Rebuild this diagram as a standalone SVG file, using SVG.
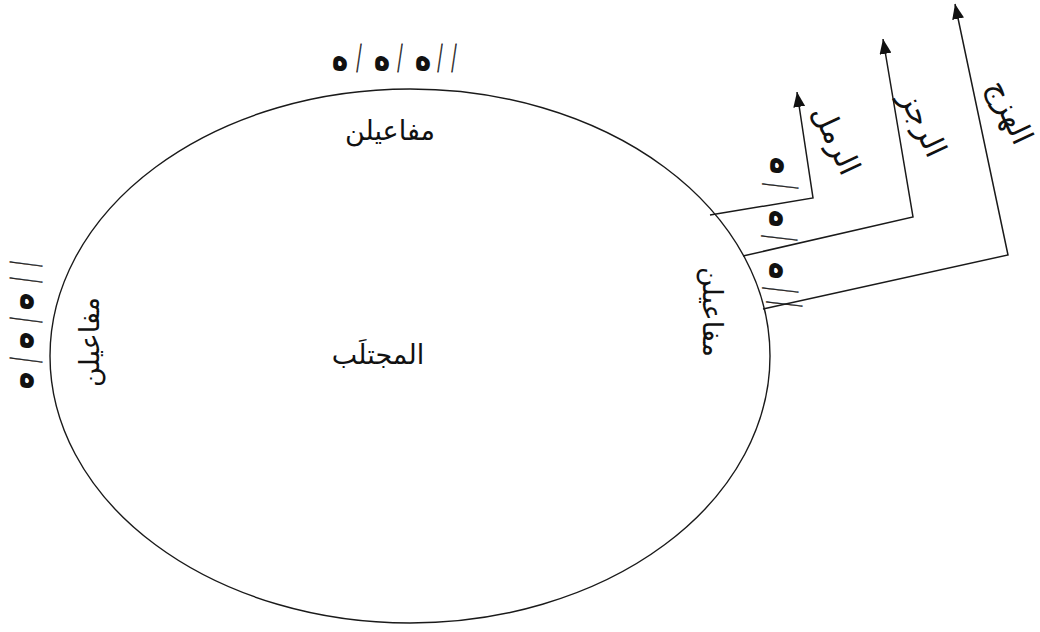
<svg xmlns="http://www.w3.org/2000/svg" width="1040" height="632" viewBox="0 0 1040 632">
<style>
.bg{fill:#ffffff}
.ring{fill:none;stroke:#1a1a1a;stroke-width:1.4}
.con{fill:none;stroke:#1a1a1a;stroke-width:1.5}
.h{font-family:"DejaVu Sans",sans-serif;font-weight:bold;font-size:28px;text-anchor:middle;fill:#111}
.s{font-family:"Liberation Serif",serif;font-size:40px;text-anchor:middle;fill:#222;stroke:#222;stroke-width:0.9}
.ar{font-family:"DejaVu Sans",sans-serif;font-size:27px;text-anchor:middle;fill:#111}
.lb{font-family:"DejaVu Sans",sans-serif;font-size:30px;text-anchor:middle;fill:#111}
</style>
<defs>
<marker id="arr" markerWidth="16" markerHeight="12" refX="15" refY="6" orient="auto" markerUnits="userSpaceOnUse">
<path d="M0,0 L15,6 L0,12 z" fill="#111"/>
</marker>
</defs>
<rect class="bg" x="0" y="0" width="1040" height="632"/>
<g id="circle">
<ellipse class="ring" cx="410" cy="356" rx="360" ry="267"/>
<text class="ar" x="378" y="364" direction="rtl">المجتلَب</text>
</g>
<g id="top-foot">
<text class="ar" x="390" y="140" direction="rtl">مفاعيلن</text>
<text class="h" transform="translate(340,70) scale(1,1.4)" x="0" y="0">ه</text>
<text class="h" transform="translate(382,70) scale(1,1.4)" x="0" y="0">ه</text>
<text class="h" transform="translate(423,70) scale(1,1.4)" x="0" y="0">ه</text>
<text class="s" transform="translate(359,58) scale(0.45,1.05)" x="0" y="13">/</text>
<text class="s" transform="translate(400,58) scale(0.45,1.05)" x="0" y="13">/</text>
<text class="s" transform="translate(440,58) scale(0.45,1.05)" x="0" y="13">/</text>
<text class="s" transform="translate(454,58) scale(0.45,1.05)" x="0" y="13">/</text>
</g>
<g id="left-foot">
<text class="ar" transform="translate(90,342) rotate(-90)" x="0" y="9" direction="rtl">مفاعيلن</text>
<text class="h" transform="translate(27,308) scale(1,1.4)" x="0" y="0">ه</text>
<text class="h" transform="translate(27,347) scale(1,1.4)" x="0" y="0">ه</text>
<text class="h" transform="translate(27,387) scale(1,1.4)" x="0" y="0">ه</text>
<text class="s" transform="translate(26,264) rotate(90) scale(0.45,1.2)" x="0" y="13">/</text>
<text class="s" transform="translate(26,280) rotate(90) scale(0.45,1.2)" x="0" y="13">/</text>
<text class="s" transform="translate(26,320) rotate(90) scale(0.45,1.2)" x="0" y="13">/</text>
<text class="s" transform="translate(26,360) rotate(90) scale(0.45,1.2)" x="0" y="13">/</text>
</g>
<g id="right-foot">
<text class="ar" transform="translate(712,312) rotate(90)" x="0" y="9" direction="rtl">مفاعيلن</text>
<text class="h" transform="translate(777,172) scale(1,1.4)" x="0" y="0">ه</text>
<text class="h" transform="translate(776,225) scale(1,1.4)" x="0" y="0">ه</text>
<text class="h" transform="translate(776,277) scale(1,1.4)" x="0" y="0">ه</text>
<text class="s" transform="translate(780,186) rotate(90) scale(0.45,1.3)" x="0" y="13">/</text>
<text class="s" transform="translate(779,238) rotate(90) scale(0.45,1.3)" x="0" y="13">/</text>
<text class="s" transform="translate(780,290) rotate(90) scale(0.45,1.3)" x="0" y="13">/</text>
<text class="s" transform="translate(784,304) rotate(90) scale(0.45,1.3)" x="0" y="13">/</text>
</g>
<g id="connectors">
<polyline class="con" points="710,215 813,198 797,92" marker-end="url(#arr)"/>
<polyline class="con" points="743,256 913,217 883,39" marker-end="url(#arr)"/>
<polyline class="con" points="763,309 1008,255 955,4" marker-end="url(#arr)"/>
</g>
<g id="label-ramal">
<text class="lb" transform="translate(836,140) rotate(65)" x="0" y="10" direction="rtl">الرمل</text>
</g>
<g id="label-rajaz">
<text class="lb" transform="translate(923,124) rotate(65)" x="0" y="10" direction="rtl">الرجز</text>
</g>
<g id="label-hazaj">
<text class="lb" transform="translate(1010,112) rotate(65)" x="0" y="10" direction="rtl">الهزج</text>
</g>
</svg>
